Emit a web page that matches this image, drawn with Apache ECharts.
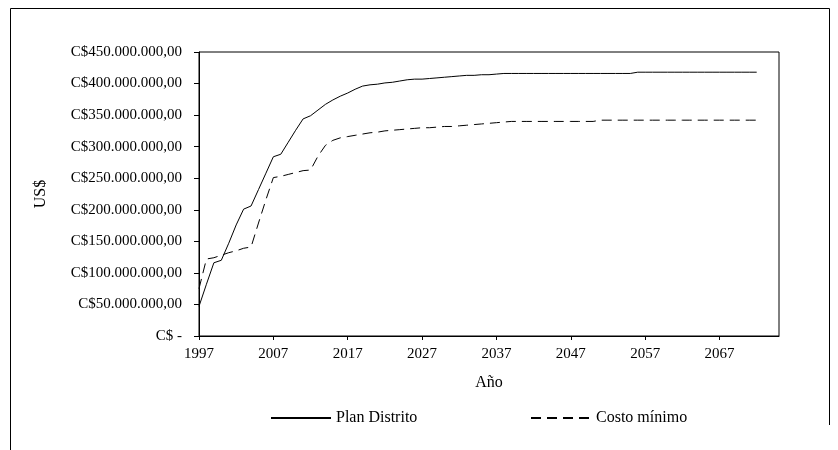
<!DOCTYPE html>
<html><head><meta charset="utf-8">
<script src="https://cdn.jsdelivr.net/npm/echarts@6/dist/echarts.min.js"></script>
<style>html,body{margin:0;padding:0;background:#fff}#c{width:838px;height:450px}</style>
</head><body><div id="c"></div>
<script>
// Categories (years) – axis runs past the last data year as in the original
const years = ['1997','1998','1999','2000','2001','2002','2003','2004','2005','2006',
  '2007','2008','2009','2010','2011','2012','2013','2014','2015','2016',
  '2017','2018','2019','2020','2021','2022','2023','2024','2025','2026',
  '2027','2028','2029','2030','2031','2032','2033','2034','2035','2036',
  '2037','2038','2039','2040','2041','2042','2043','2044','2045','2046',
  '2047','2048','2049','2050','2051','2052','2053','2054','2055','2056',
  '2057','2058','2059','2060','2061','2062','2063','2064','2065','2066',
  '2067','2068','2069','2070','2071','2072','2073','2074','2075'];

// Values in millions of C$ (1997 .. 2072)
const planDistrito = [47,82,116,120,147,176,201,206,232,258,
  284,288,307,326,344,349,358,367,374,380,
  385,391,396,398,399,401,402,404,406,407,
  407,408,409,410,411,412,413,413,414,414,
  415,416,416,416,416,416,416,416,416,416,
  416,416,416,416,416,416,416,416,416,418,
  418,418,418,418,418,418,418,418,418,418,
  418,418,418,418,418,418];
const costoMinimo = [75,122,124,128,132,135,139,141,179,216,
  251,253,256,259,262,263,285,302,310,314,
  316,318,320,322,323,325,326,327,328,329,
  330,330,331,332,332,333,334,335,336,337,
  338,339,340,340,340,340,340,340,340,340,
  340,340,340,340,342,342,342,342,342,342,
  342,342,342,342,342,342,342,342,342,342,
  342,342,342,342,342,342];

const yTickMillions = [0,50,100,150,200,250,300,350,400,450];
const seriesNames = ['Plan Distrito','Costo mínimo'];

const FONT = 'Liberation Serif';
const chart = echarts.init(document.getElementById('c'), null, {renderer:'canvas'});
const legendBase = {itemWidth:60,itemHeight:14,itemGap:5,padding:0,
  itemStyle:{opacity:0},
  textStyle:{color:'#000',fontFamily:FONT,fontSize:16}};
chart.setOption({
  backgroundColor:'#fff',
  animation:false,
  grid:{left:199,right:59,top:52,bottom:114,show:true,borderColor:'#000',borderWidth:1,backgroundColor:'transparent'},
  xAxis:{
    type:'category', data:years, boundaryGap:false,
    axisLine:{lineStyle:{color:'#000',width:1}},
    axisTick:{show:true,length:4,inside:false,interval:function(i){return i%10===0;},lineStyle:{color:'#000'}},
    axisLabel:{interval:function(i){return i%10===0;},margin:11,color:'#000',fontFamily:FONT,fontSize:15},
    splitLine:{show:false}
  },
  yAxis:{
    type:'value', min:yTickMillions[0], max:yTickMillions[yTickMillions.length-1], interval:50,
    axisLine:{show:true,lineStyle:{color:'#000',width:1}},
    axisTick:{show:true,length:5,inside:false,lineStyle:{color:'#000'}},
    axisLabel:{margin:17,color:'#000',fontFamily:FONT,fontSize:15,
      formatter:function(v){return v===0?'C$ -':'C$'+v+'.000.000,00';}},
    splitLine:{show:false}
  },
  legend:[
    Object.assign({data:[seriesNames[0]],left:270,top:410},legendBase),
    Object.assign({data:[seriesNames[1]],left:530,top:410},legendBase)
  ],
  graphic:[
    {type:'polyline',shape:{points:[[10.5,450],[10.5,8.5],[829.5,8.5],[829.5,425]]},style:{stroke:'#000',lineWidth:1,fill:null},silent:true},
    {type:'text',x:41,y:194,rotation:Math.PI/2,style:{text:'US$',fill:'#000',font:'16px "Liberation Serif"',textAlign:'center',textVerticalAlign:'middle'}},
    {type:'text',x:489,y:383,style:{text:'Año',fill:'#000',font:'16px "Liberation Serif"',textAlign:'center',textVerticalAlign:'middle'}}
  ],
  series:[
    {name:seriesNames[0],type:'line',data:planDistrito,symbol:'none',
     lineStyle:{color:'#000',width:1,type:'solid'},itemStyle:{color:'#000'}},
    {name:seriesNames[1],type:'line',data:costoMinimo,symbol:'none',
     lineStyle:{color:'#000',width:1,type:[10,6]},itemStyle:{color:'#000'}}
  ]
});
</script>
</body></html>
